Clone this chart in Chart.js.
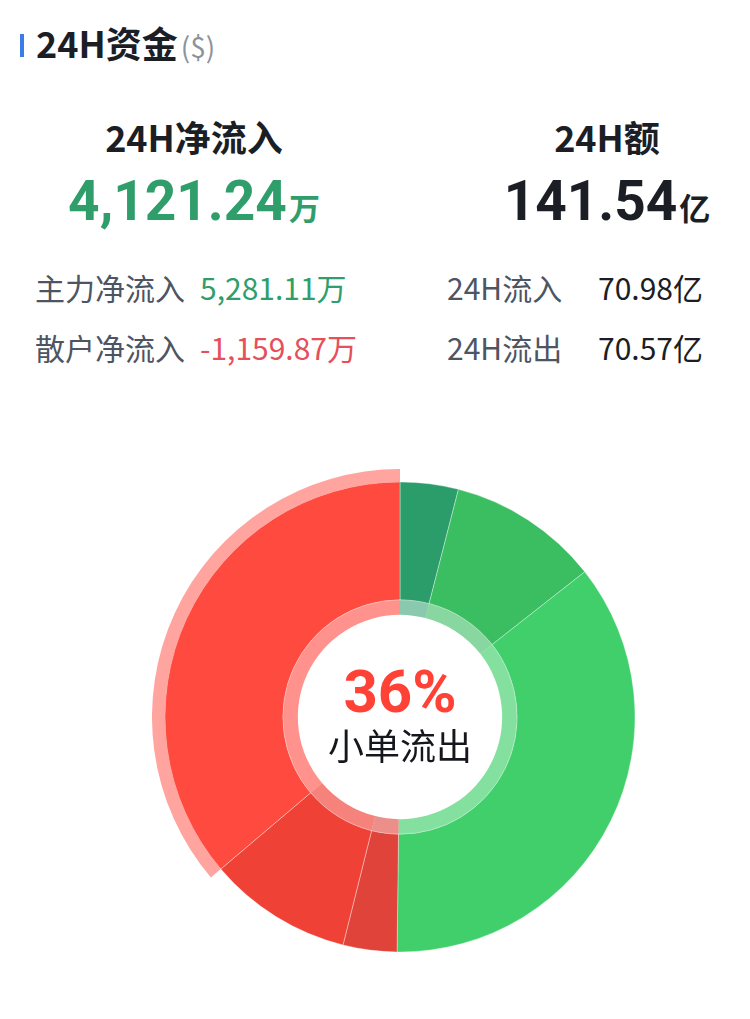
<!DOCTYPE html>
<html>
<head>
<meta charset="utf-8">
<script src="https://cdn.jsdelivr.net/npm/chart.js@4"></script>
<style>
  body { margin: 0; background: #fff; width: 750px; height: 1019px; position: relative; overflow: hidden;
         font-family: "Noto Sans CJK SC", "Noto Sans", sans-serif; }
  .abs { position: absolute; line-height: 1; white-space: nowrap; }
  .bar { position: absolute; left: 20px; top: 34px; width: 4px; height: 23px; background: #3b7ce9; }
  .title { left: 36px; top: 24px; font-size: 36px; font-weight: bold; color: #1b1e25; }
  .title span { font-size: 28px; font-weight: normal; color: #8d939c; margin-left: 3px; }
  .head { width: 300px; text-align: center; font-size: 36px; font-weight: bold; color: #1b1e25; top: 118px; }
  .big { width: 400px; text-align: center; font-family: Roboto, "Noto Sans", sans-serif; font-size: 55px; font-weight: bold; top: 174px; }
  .big span { font-family: "Noto Sans CJK SC", sans-serif; font-size: 31px; margin-left: 2px; }
  .row { font-size: 30px; color: #4d5462; }
  .g { color: #2f9e6a; }
  .r { color: #e5505a; }
  .k { color: #1b1e25; }
  #wrap { position: absolute; left: 152px; top: 469px; width: 496px; height: 496px; }
</style>
</head>
<body>
<div class="bar"></div>
<div class="abs title">24H资金<span>($)</span></div>

<div class="abs head" style="left:44px">24H净流入</div>
<div class="abs head" style="left:457px">24H额</div>
<div class="abs big g" style="left:-6px" id="netIn"></div>
<div class="abs big k" style="left:407px" id="total"></div>

<div class="abs row" style="left:35px;top:272px">主力净流入</div>
<div class="abs row g" style="left:200px;top:272px" id="mainNet"></div>
<div class="abs row" style="left:35px;top:332px">散户净流入</div>
<div class="abs row r" style="left:200px;top:332px" id="retailNet"></div>
<div class="abs row" style="left:447px;top:272px">24H流入</div>
<div class="abs row k" style="left:598px;top:272px" id="inflow"></div>
<div class="abs row" style="left:447px;top:332px">24H流出</div>
<div class="abs row k" style="left:598px;top:332px" id="outflow"></div>

<div id="wrap"><canvas id="fund"></canvas></div>

<script>
// summary figures
const netInflow = ['4,121.24', '万'];
const turnover = ['141.54', '亿'];
const mainNet = '5,281.11万';
const retailNet = '-1,159.87万';
const inflow24h = '70.98亿';
const outflow24h = '70.57亿';

// doughnut: share of 24h turnover (%), clockwise from 12 o'clock
const categories = ['大单流入', '中单流入', '小单流入', '大单流出', '中单流出', '小单流出'];
const shares = [4.0, 10.4, 35.8, 3.7, 9.9, 36.2];
const sliceColors = ['#2a9d6b', '#3bbd61', '#40cf6b', '#e0433a', '#ef4136', '#ff4a3f'];
const innerColors = ['rgba(42,157,107,0.55)', 'rgba(59,189,97,0.6)', 'rgba(64,207,107,0.65)',
                     'rgba(224,67,58,0.6)', 'rgba(239,65,54,0.65)', 'rgba(255,74,63,0.6)'];
const focusIndex = 5;
const centerLabel = '小单流出';

document.getElementById('netIn').innerHTML = netInflow[0] + '<span>' + netInflow[1] + '</span>';
document.getElementById('total').innerHTML = turnover[0] + '<span>' + turnover[1] + '</span>';
document.getElementById('mainNet').textContent = mainNet;
document.getElementById('retailNet').textContent = retailNet;
document.getElementById('inflow').textContent = inflow24h;
document.getElementById('outflow').textContent = outflow24h;

// outer highlight ring only on the focused slice
const highlight = categories.map((c, i) => i === focusIndex ? 'rgba(255,74,63,0.5)' : 'rgba(0,0,0,0)');

const centerText = {
    id: 'centerText',
    afterDraw(chart) {
        const arc = chart.getDatasetMeta(1).data[0];
        const ctx = chart.ctx;
        ctx.save();
        ctx.textAlign = 'center';
        ctx.textBaseline = 'alphabetic';
        ctx.fillStyle = '#ff4136';
        ctx.font = 'bold 60px Roboto, sans-serif';
        ctx.fillText(Math.round(shares[focusIndex]) + '%', arc.x, arc.y - 5);
        ctx.fillStyle = '#15171c';
        ctx.font = '36px "Noto Sans CJK SC", sans-serif';
        ctx.fillText(centerLabel, arc.x, arc.y + 43);
        ctx.restore();
    }
};

new Chart(document.getElementById('fund'), {
    type: 'doughnut',
    data: {
        labels: categories,
        datasets: [
            { data: shares, backgroundColor: highlight, borderWidth: 0, weight: 13 },
            { data: shares, backgroundColor: sliceColors, borderWidth: 1,
              borderColor: 'rgba(255,255,255,0.35)', weight: 118 },
            { data: shares, backgroundColor: innerColors, borderWidth: 0, weight: 15 }
        ]
    },
    options: {
        responsive: true,
        maintainAspectRatio: false,
        animation: false,
        events: [],
        cutout: '41.2%',
        hoverOffset: 0,
        layout: { padding: 0 },
        plugins: { legend: { display: false }, tooltip: { enabled: false } }
    },
    plugins: [centerText]
});
</script>
</body>
</html>
